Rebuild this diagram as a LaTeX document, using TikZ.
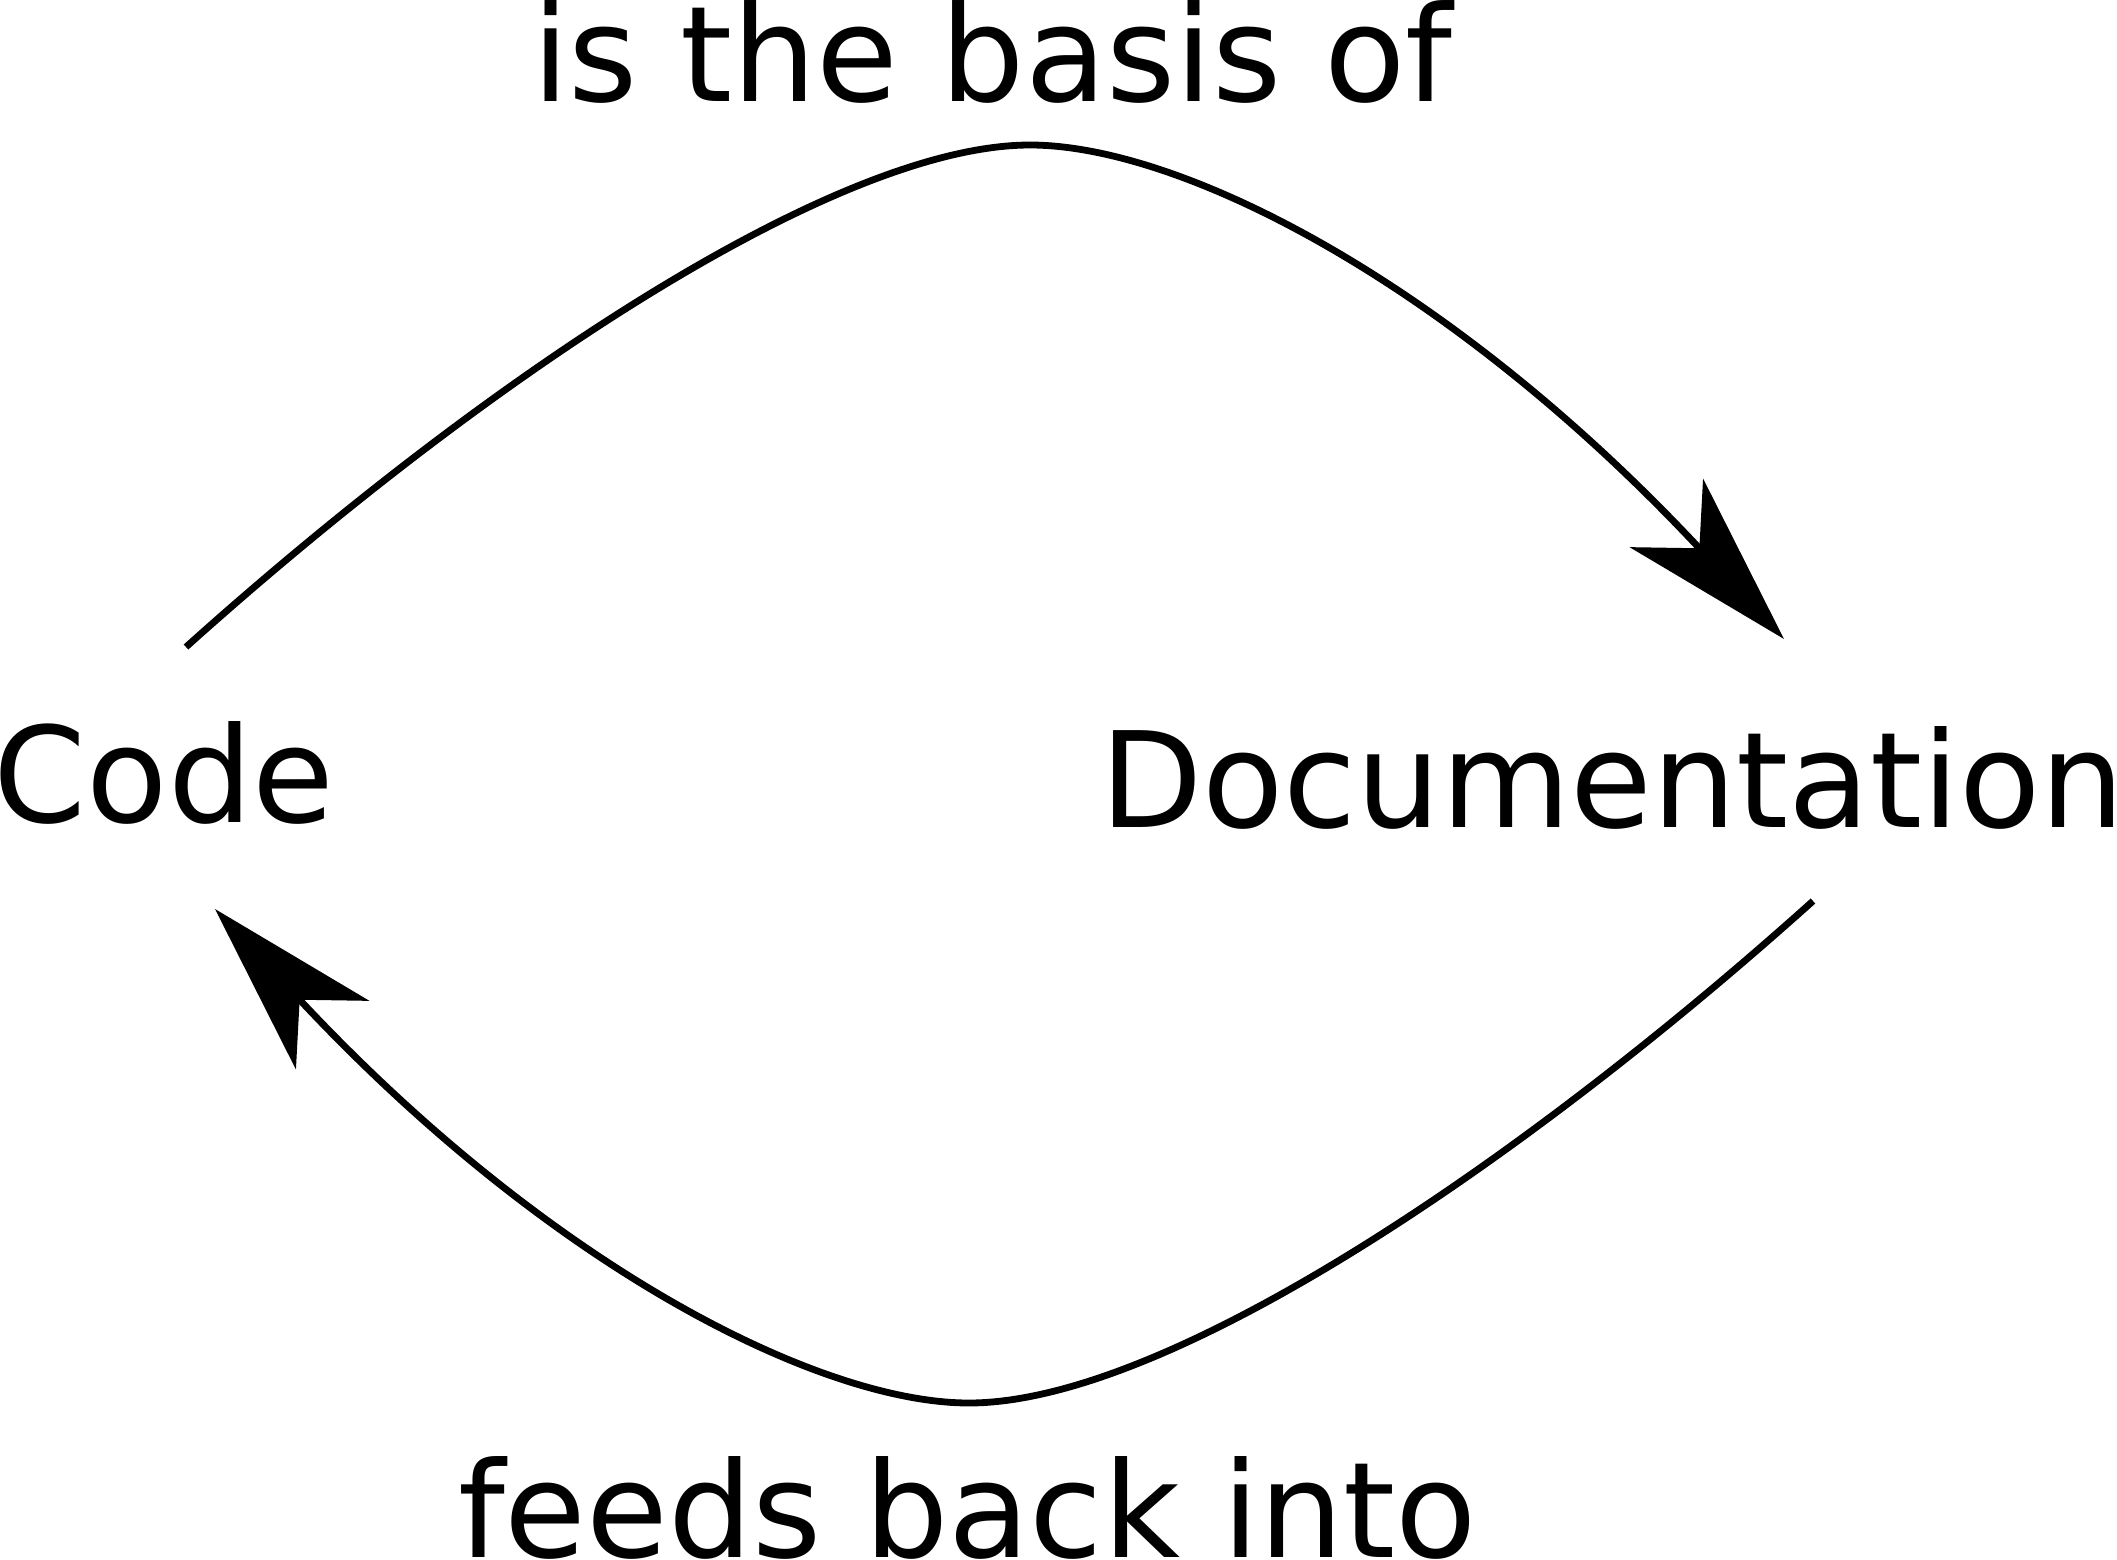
\documentclass[tikz,border=0pt]{standalone}
\usepackage{fontspec}
\setmainfont{DejaVu Sans}
\usetikzlibrary{arrows.meta}
\begin{document}
\begin{tikzpicture}[x=0.01cm,y=-0.01cm,
  lbl/.style={inner sep=0pt, outer sep=0pt, font=\fontsize{37.8pt}{45pt}\selectfont, anchor=base west},
  flow/.style={line width=0.068cm, -{Stealth[length=1.72cm,width=1.0cm,inset=0.48cm]}}]
\useasboundingbox (0,0) rectangle (2117,1560);
\node[lbl] (basis) at (532,101) {is the basis of};
\node[lbl] (code) at (-6,822) {Code};
\node[lbl] (doc) at (1100,827) {Documentation};
\node[lbl] (feeds) at (458,1557) {feeds back into};
\coordinate (codeout) at (186,647);
\coordinate (docin) at (1784,639);
\coordinate (docout) at (1813,901);
\coordinate (codein) at (215,909);
\coordinate (topmid) at (1030,145);
\coordinate (botmid) at (969,1403);
\draw[flow] (codeout) .. controls (483.6,379.8) and (835,145) .. (topmid)
  .. controls (1180,145) and (1450,281) .. (docin);
\draw[flow] (docout) .. controls (1515.4,1168.2) and (1164,1403) .. (botmid)
  .. controls (819,1403) and (549,1267) .. (codein);
\end{tikzpicture}
\end{document}
